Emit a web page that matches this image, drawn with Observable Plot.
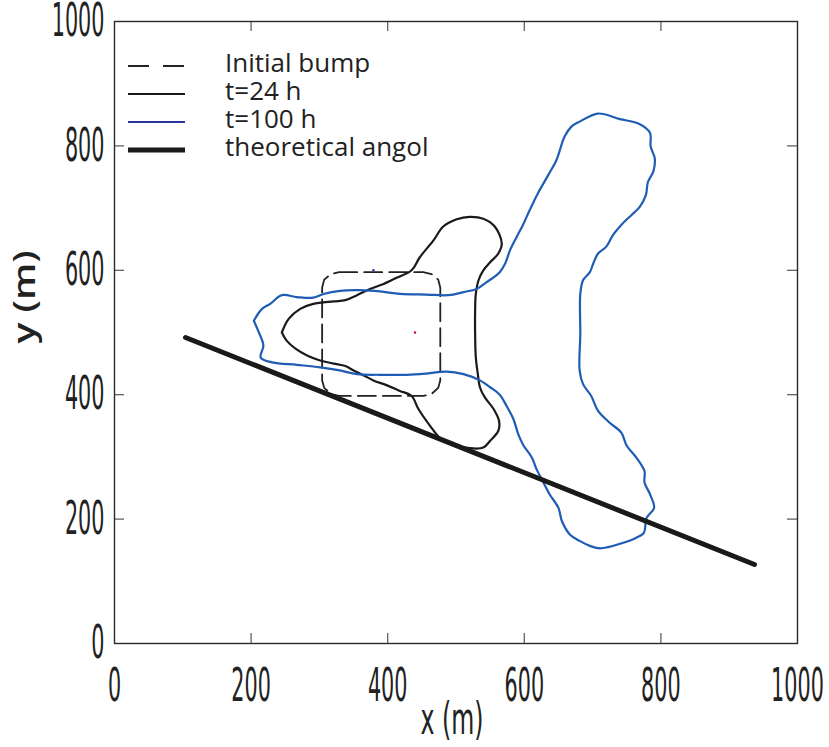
<!DOCTYPE html>
<html>
<head>
<meta charset="utf-8">
<script src="https://cdn.jsdelivr.net/npm/d3@7"></script>
<script src="https://cdn.jsdelivr.net/npm/@observablehq/plot@0.6"></script>
<style>
  body { margin: 0; background: #fff; }
  #wrap { position: relative; width: 829px; height: 747px; background: #fff; }
  #legend { position: absolute; left: 128px; top: 0; font-family: "Open Sans", sans-serif; font-size: 26px; color: #222; }
  #legend .row { position: absolute; left: 0; height: 28px; white-space: nowrap; }
  #legend svg { position: absolute; left: 0; top: 0; }
  #legend span { position: absolute; display: block; left: 97px; top: -3px; height: 26px; line-height: 26px; overflow: visible; }
</style>
</head>
<body>
<div id="wrap"></div>
<script>
// ---- axes ----
const xDomain = [0, 1000];
const yDomain = [0, 1000];
const xTicks = [0, 200, 400, 600, 800, 1000];
const yTicks = [0, 200, 400, 600, 800, 1000];
const innerTicksX = [200, 400, 600, 800];
const innerTicksY = [200, 400, 600, 800];
const xLabel = "x (m)";
const yLabel = "y (m)";

// ---- Initial bump (dashed rounded square) ----
const bumpX = [329, 452, 464, 474, 477, 477, 474, 464, 452, 329, 317, 307, 304, 304, 307, 317, 329];
const bumpY = [597, 597, 594, 585, 572, 423, 411, 401, 398, 398, 401, 411, 423, 572, 585, 594, 597];

// ---- t = 24 h contour ----
const t24X = [245, 255, 272, 291, 321, 338, 355, 374, 394, 413, 435, 447, 467, 481, 501, 520, 540, 557, 567, 562,
              550, 540, 533, 529, 528, 528, 529, 532, 535, 542, 555, 563, 562, 550, 540, 520, 496, 477, 462, 445,
              435, 418, 399, 379, 365, 350, 338, 321, 301, 282, 265, 252, 245];
const t24Y = [500, 522, 538, 546, 550, 552, 560, 570, 578, 588, 600, 621, 648, 670, 682, 686, 683, 670, 643, 627,
              613, 600, 584, 562, 535, 498, 460, 433, 412, 396, 377, 358, 342, 326, 315, 314, 320, 330, 350, 377,
              398, 406, 415, 423, 431, 439, 446, 450, 455, 463, 474, 487, 500];

// ---- t = 100 h contour ----
const t100X = [204, 216, 228, 245, 267, 291, 306, 330, 360, 389, 418, 457, 489, 511, 530,
               545, 564, 572, 579, 589, 598, 608, 620, 635, 647, 659, 669, 681, 708, 740, 767, 784, 785, 791, 789,
               781, 778, 769, 757, 742, 730, 720, 708, 701, 696, 686, 682,
               682, 681, 686, 698, 708, 725, 742, 750, 764, 776, 776, 784, 790, 779, 775, 764, 745, 711, 696, 681,
               667, 655, 650, 637, 628, 618, 611, 598, 591, 584, 574, 564,
               550, 535, 511, 486, 457, 428, 389, 355, 330, 301, 267, 231, 214, 218, 211, 204];
const t100Y = [519, 538, 546, 560, 557, 556, 562, 567, 568, 566, 562, 561, 560, 565, 570,
               581, 597, 611, 632, 654, 673, 697, 724, 753, 777, 815, 831, 839, 852, 843, 836, 821, 799, 780, 759,
               742, 721, 702, 689, 673, 657, 638, 627, 611, 597, 584, 562,
               498, 439, 417, 398, 374, 355, 339, 318, 299, 277, 259, 240, 218, 202, 178, 170, 162, 153, 157, 165,
               175, 197, 218, 240, 259, 280, 299, 320, 337, 361, 382, 400,
               412, 423, 433, 437, 434, 432, 432, 433, 439, 444, 448, 452, 460, 479, 501, 519];

// ---- theoretical angle line ----
const angolX = [104, 937];
const angolY = [492, 127];

// ---- tiny markers ----
const markX = [440, 379];
const markY = [500, 600];
const markColor = ["#c8102e", "#2b35a0"];

// ---- legend ----
const legendLabels = ["Initial bump", "t=24 h", "t=100 h", "theoretical angol"];
const legendColors = ["#222222", "#1a1a1a", "#2b35a0", "#1a1a1a"];
const legendWidths = [2.2, 2, 2, 5];
const legendDash = ["21,14", null, null, null];

const pts = (xs, ys) => xs.map((x, i) => ({x, y: ys[i]}));

const W = 829, H = 747, mL = 114, mR = 32, mT = 21, mB = 104;
const frameW = W - mL - mR, frameH = H - mT - mB;
const tickLen = 10;

const chart = Plot.plot({
  width: W, height: H,
  marginLeft: mL, marginRight: mR, marginTop: mT, marginBottom: mB,
  x: {domain: xDomain},
  y: {domain: yDomain},
  style: {fontFamily: "'Liberation Sans Narrow', 'DejaVu Sans Condensed', sans-serif", fontSize: "46px", color: "#222", background: "#fff", overflow: "visible"},
  marks: [
    Plot.line(pts(bumpX, bumpY), {x: "x", y: "y", stroke: "#222", strokeWidth: 1.8, strokeDasharray: "18,7"}),
    Plot.line(pts(t24X, t24Y), {x: "x", y: "y", stroke: "#1a1a1a", strokeWidth: 2.2, curve: "catmull-rom"}),
    Plot.line(pts(t100X, t100Y), {x: "x", y: "y", stroke: "#1f5db4", strokeWidth: 2.2, curve: "catmull-rom"}),
    Plot.line(pts(angolX, angolY), {x: "x", y: "y", stroke: "#1a1a1a", strokeWidth: 5}),
    Plot.dot(pts(markX, markY).map((d, i) => ({...d, c: markColor[i]})), {x: "x", y: "y", r: 1.2, fill: "c", stroke: null}),
    Plot.tickX(innerTicksX, {x: d => d, stroke: "#555", strokeWidth: 1.2, insetTop: frameH - tickLen}),
    Plot.tickX(innerTicksX, {x: d => d, stroke: "#555", strokeWidth: 1.2, insetBottom: frameH - tickLen}),
    Plot.tickY(innerTicksY, {y: d => d, stroke: "#555", strokeWidth: 1.2, insetRight: frameW - tickLen}),
    Plot.tickY(innerTicksY, {y: d => d, stroke: "#555", strokeWidth: 1.2, insetLeft: frameW - tickLen}),
    Plot.frame({stroke: "#2a2a2a", strokeWidth: 1.4}),
    Plot.axisX({ticks: xTicks, tickSize: 0, tickPadding: 25, label: null, fontSize: 46, tickFormat: d => String(d)}),
    Plot.axisY({ticks: yTicks, tickSize: 0, tickPadding: 10, label: null, fontSize: 46, tickFormat: d => String(d)}),
    Plot.text([xLabel], {text: d => d, frameAnchor: "bottom", dx: -4, dy: 90, fontSize: 44, fill: "#222"}),
    Plot.text([yLabel], {text: d => d, frameAnchor: "left", rotate: -90, dx: -89, dy: 11, fontSize: 30, fontFamily: "'Open Sans', sans-serif", fontWeight: 600, fill: "#222"})
  ]
});

const wrap = document.getElementById("wrap");
wrap.appendChild(chart);

// condense texts (reference uses a very narrow face)
d3.select(chart).selectAll("text").each(function() {
  const t = this.textContent;
  let len = null;
  if (t === xLabel) len = 63;
  else if (t === yLabel) len = 93;
  else if (/^\d+$/.test(t)) len = 13.2 * t.length;
  if (len != null) {
    this.setAttribute("textLength", len.toFixed(1));
    this.setAttribute("lengthAdjust", "spacingAndGlyphs");
  }
});

// legend (inside the axes, top-left)
const legend = document.createElement("div");
legend.id = "legend";
legendLabels.forEach((lab, i) => {
  const row = document.createElement("div");
  row.className = "row";
  row.style.top = (52 + i * 28) + "px";
  const s = d3.create("svg").attr("width", 60).attr("height", 28);
  s.append("line").attr("x1", 0).attr("x2", 57).attr("y1", 14).attr("y2", 14)
    .attr("stroke", legendColors[i]).attr("stroke-width", legendWidths[i])
    .attr("stroke-dasharray", legendDash[i]);
  row.appendChild(s.node());
  const sp = document.createElement("span");
  sp.textContent = lab;
  row.appendChild(sp);
  legend.appendChild(row);
});
wrap.appendChild(legend);
</script>
</body>
</html>
